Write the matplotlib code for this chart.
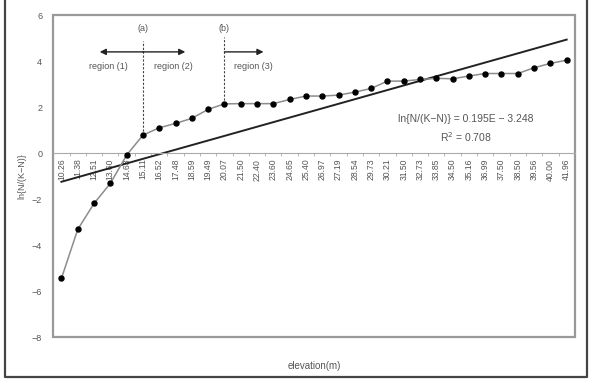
import numpy as np
import matplotlib.pyplot as plt
from matplotlib.lines import Line2D
from matplotlib.patches import Rectangle

plt.rcParams['font.family'] = ['Liberation Sans', 'DejaVu Sans']

elevation = ['10.26', '11.38', '12.51', '13.60', '14.63', '15.11', '16.52', '17.48',
             '18.59', '19.49', '20.07', '21.50', '22.40', '23.60', '24.65', '25.40',
             '26.97', '27.19', '28.54', '29.73', '30.21', '31.50', '32.73', '33.85',
             '34.50', '35.16', '36.99', '37.50', '38.50', '39.56', '40.00', '41.96']
ln_ratio = [-5.45, -3.32, -2.19, -1.32, -0.09, 0.78, 1.10, 1.29,
            1.51, 1.90, 2.14, 2.15, 2.15, 2.15, 2.33, 2.48,
            2.48, 2.52, 2.65, 2.81, 3.13, 3.13, 3.20, 3.25,
            3.23, 3.35, 3.46, 3.46, 3.46, 3.71, 3.90, 4.04]
slope, intercept = 0.195, -3.248

txt = '#555555'
x = np.arange(len(elevation))
elev = np.array([float(e) for e in elevation])

fig = plt.figure(figsize=(5.92, 3.87), dpi=100)
# outer frame (open at the top)
fx = [4.5 / 592, 4.5 / 592, 586.5 / 592, 586.5 / 592]
fy = [1.0, 10 / 387, 10 / 387, 1.0]
fig.lines.append(Line2D(fx, fy, transform=fig.transFigure, color='#444444', linewidth=1.6))
ax = fig.add_axes([0.090, 0.129, 0.881, 0.832])

ax.plot(x, ln_ratio, color='#8c8c8c', linewidth=1.1, marker='o', markersize=3.6,
        markerfacecolor='black', markeredgecolor='black', zorder=3)
trend_x = [x[0], x[-1]]
trend_y = slope * np.array([elev[0], elev[-1]]) + intercept
ax.plot(trend_x, trend_y, color='#222222', linewidth=1.4, zorder=2)

# region markers
ax.plot([5, 5], [ln_ratio[5], 4.88], color='#444444', linestyle=(0, (2, 1.5)), linewidth=0.8)
ax.plot([10, 10], [ln_ratio[10], 5.06], color='#444444', linestyle=(0, (2, 1.5)), linewidth=0.8)
ax.text(5, 5.43, '(a)', ha='center', va='center', fontsize=6.5, color=txt)
ax.text(10, 5.43, '(b)', ha='center', va='center', fontsize=6.5, color=txt)
arrow = dict(arrowstyle='-|>', color='#222222', linewidth=1.0, mutation_scale=9, shrinkA=0, shrinkB=0)
ax.annotate('', xy=(2.35, 4.4), xytext=(5, 4.4), arrowprops=arrow)
ax.annotate('', xy=(7.6, 4.4), xytext=(5, 4.4), arrowprops=arrow)
ax.annotate('', xy=(12.4, 4.4), xytext=(10, 4.4), arrowprops=arrow)
ax.text(2.85, 3.75, 'region (1)', ha='center', va='center', fontsize=6.5, color=txt)
ax.text(6.85, 3.75, 'region (2)', ha='center', va='center', fontsize=6.5, color=txt)
ax.text(11.8, 3.75, 'region (3)', ha='center', va='center', fontsize=6.5, color=txt)

ax.text(24.8, 1.5, 'ln{N/(K\u2212N)} = 0.195E \u2212 3.248', ha='center', va='center',
        fontsize=7.5, color=txt)
ax.text(24.85, 0.7, 'R$^2$ = 0.708', ha='center', va='center', fontsize=7.5, color=txt)

ax.set_xlim(-0.5, len(elevation) - 0.5)
ax.set_ylim(-8, 6)
ax.set_yticks(np.arange(-8, 7, 2))
ax.tick_params(axis='y', labelsize=6.5, labelcolor=txt, length=0, pad=8)

for s in ['top', 'right', 'left']:
    ax.spines[s].set_visible(False)
ax.spines['bottom'].set_position(('data', 0))
ax.spines['bottom'].set_color('#aaaaaa')
ax.spines['bottom'].set_linewidth(0.8)
ax.add_patch(Rectangle((0, 0), 1, 1, transform=ax.transAxes, fill=False,
                       edgecolor='#999999', linewidth=1.6, clip_on=False))

ax.set_xticks(x)
ax.set_xticklabels(elevation, rotation=90, fontsize=6.2, color=txt)
ax.set_xticks(x[:-1] + 0.5, minor=True)
ax.tick_params(axis='x', which='major', length=0, pad=4)
ax.tick_params(axis='x', which='minor', length=2, color='#aaaaaa')

ax.set_ylabel('ln{N/(K\u2212N)}', fontsize=6.5, color=txt, labelpad=4)
ax.text(0.5, -0.09, 'elevation(m)', transform=ax.transAxes, ha='center', va='center',
        fontsize=7, color=txt)

plt.savefig('out.png', dpi=100)
